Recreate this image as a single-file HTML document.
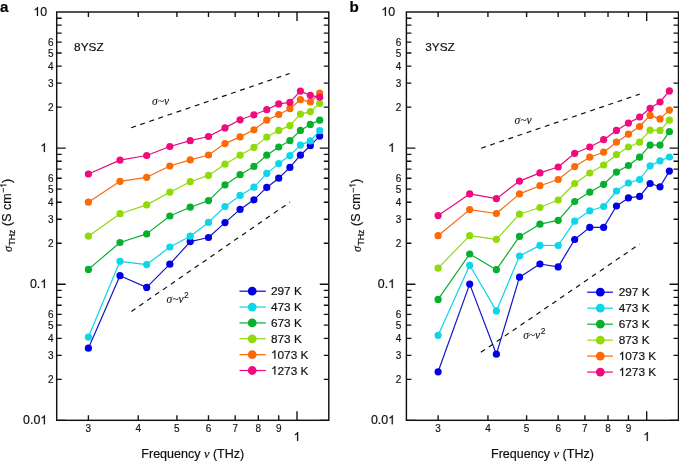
<!DOCTYPE html>
<html><head><meta charset="utf-8"><style>
html,body{margin:0;padding:0;background:#fff;}
svg{display:block;will-change:transform;}
text{font-family:"Liberation Sans",sans-serif;fill:#111;font-kerning:none;white-space:pre;stroke:#111;stroke-width:0.2px;}
.let{font-size:15.2px;font-weight:bold;fill:#000;stroke-width:0.2px;}
.it{font-family:"Liberation Serif",serif;font-style:italic;}
.sig{font-family:"Liberation Serif",serif;font-style:italic;font-size:11.5px;stroke-width:0.1px;}
</style></head><body>
<svg width="679" height="461" viewBox="0 0 679 461">
<rect width="679" height="461" fill="#fff"/>
<g transform="translate(0.00,0)">
<polyline points="88.40,348.20 119.99,275.70 146.69,287.40 169.82,264.20 190.23,241.60 208.48,237.50 224.99,222.60 240.07,209.40 253.93,199.80 266.77,187.40 278.72,178.20 289.90,167.40 300.41,155.20 310.31,145.70 319.68,136.10" fill="none" stroke="#1414cc" stroke-width="1.2" stroke-linejoin="round"/>
<circle cx="88.40" cy="348.20" r="3.6" fill="#0000e8"/><circle cx="119.99" cy="275.70" r="3.6" fill="#0000e8"/><circle cx="146.69" cy="287.40" r="3.6" fill="#0000e8"/><circle cx="169.82" cy="264.20" r="3.6" fill="#0000e8"/><circle cx="190.23" cy="241.60" r="3.6" fill="#0000e8"/><circle cx="208.48" cy="237.50" r="3.6" fill="#0000e8"/><circle cx="224.99" cy="222.60" r="3.6" fill="#0000e8"/><circle cx="240.07" cy="209.40" r="3.6" fill="#0000e8"/><circle cx="253.93" cy="199.80" r="3.6" fill="#0000e8"/><circle cx="266.77" cy="187.40" r="3.6" fill="#0000e8"/><circle cx="278.72" cy="178.20" r="3.6" fill="#0000e8"/><circle cx="289.90" cy="167.40" r="3.6" fill="#0000e8"/><circle cx="300.41" cy="155.20" r="3.6" fill="#0000e8"/><circle cx="310.31" cy="145.70" r="3.6" fill="#0000e8"/><circle cx="319.68" cy="136.10" r="3.6" fill="#0000e8"/>
<polyline points="88.40,337.10 119.99,261.30 146.69,264.60 169.82,247.00 190.23,236.20 208.48,222.40 224.99,206.50 240.07,195.40 253.93,187.20 266.77,173.40 278.72,163.60 289.90,155.60 300.41,145.10 310.31,140.90 319.68,130.70" fill="none" stroke="#0cd4e6" stroke-width="1.2" stroke-linejoin="round"/>
<circle cx="88.40" cy="337.10" r="3.6" fill="#0cd6e8"/><circle cx="119.99" cy="261.30" r="3.6" fill="#0cd6e8"/><circle cx="146.69" cy="264.60" r="3.6" fill="#0cd6e8"/><circle cx="169.82" cy="247.00" r="3.6" fill="#0cd6e8"/><circle cx="190.23" cy="236.20" r="3.6" fill="#0cd6e8"/><circle cx="208.48" cy="222.40" r="3.6" fill="#0cd6e8"/><circle cx="224.99" cy="206.50" r="3.6" fill="#0cd6e8"/><circle cx="240.07" cy="195.40" r="3.6" fill="#0cd6e8"/><circle cx="253.93" cy="187.20" r="3.6" fill="#0cd6e8"/><circle cx="266.77" cy="173.40" r="3.6" fill="#0cd6e8"/><circle cx="278.72" cy="163.60" r="3.6" fill="#0cd6e8"/><circle cx="289.90" cy="155.60" r="3.6" fill="#0cd6e8"/><circle cx="300.41" cy="145.10" r="3.6" fill="#0cd6e8"/><circle cx="310.31" cy="140.90" r="3.6" fill="#0cd6e8"/><circle cx="319.68" cy="130.70" r="3.6" fill="#0cd6e8"/>
<polyline points="88.40,269.40 119.99,242.50 146.69,233.90 169.82,216.00 190.23,207.20 208.48,200.60 224.99,184.90 240.07,174.70 253.93,166.40 266.77,155.20 278.72,147.00 289.90,140.70 300.41,130.40 310.31,124.40 319.68,120.20" fill="none" stroke="#0aae2e" stroke-width="1.2" stroke-linejoin="round"/>
<circle cx="88.40" cy="269.40" r="3.6" fill="#06b02c"/><circle cx="119.99" cy="242.50" r="3.6" fill="#06b02c"/><circle cx="146.69" cy="233.90" r="3.6" fill="#06b02c"/><circle cx="169.82" cy="216.00" r="3.6" fill="#06b02c"/><circle cx="190.23" cy="207.20" r="3.6" fill="#06b02c"/><circle cx="208.48" cy="200.60" r="3.6" fill="#06b02c"/><circle cx="224.99" cy="184.90" r="3.6" fill="#06b02c"/><circle cx="240.07" cy="174.70" r="3.6" fill="#06b02c"/><circle cx="253.93" cy="166.40" r="3.6" fill="#06b02c"/><circle cx="266.77" cy="155.20" r="3.6" fill="#06b02c"/><circle cx="278.72" cy="147.00" r="3.6" fill="#06b02c"/><circle cx="289.90" cy="140.70" r="3.6" fill="#06b02c"/><circle cx="300.41" cy="130.40" r="3.6" fill="#06b02c"/><circle cx="310.31" cy="124.40" r="3.6" fill="#06b02c"/><circle cx="319.68" cy="120.20" r="3.6" fill="#06b02c"/>
<polyline points="88.40,236.20 119.99,213.70 146.69,204.90 169.82,192.20 190.23,181.70 208.48,175.40 224.99,164.20 240.07,155.20 253.93,147.40 266.77,137.10 278.72,130.40 289.90,125.60 300.41,114.10 310.31,111.60 319.68,103.50" fill="none" stroke="#90d810" stroke-width="1.2" stroke-linejoin="round"/>
<circle cx="88.40" cy="236.20" r="3.6" fill="#90da08"/><circle cx="119.99" cy="213.70" r="3.6" fill="#90da08"/><circle cx="146.69" cy="204.90" r="3.6" fill="#90da08"/><circle cx="169.82" cy="192.20" r="3.6" fill="#90da08"/><circle cx="190.23" cy="181.70" r="3.6" fill="#90da08"/><circle cx="208.48" cy="175.40" r="3.6" fill="#90da08"/><circle cx="224.99" cy="164.20" r="3.6" fill="#90da08"/><circle cx="240.07" cy="155.20" r="3.6" fill="#90da08"/><circle cx="253.93" cy="147.40" r="3.6" fill="#90da08"/><circle cx="266.77" cy="137.10" r="3.6" fill="#90da08"/><circle cx="278.72" cy="130.40" r="3.6" fill="#90da08"/><circle cx="289.90" cy="125.60" r="3.6" fill="#90da08"/><circle cx="300.41" cy="114.10" r="3.6" fill="#90da08"/><circle cx="310.31" cy="111.60" r="3.6" fill="#90da08"/><circle cx="319.68" cy="103.50" r="3.6" fill="#90da08"/>
<polyline points="88.40,202.20 119.99,181.30 146.69,177.30 169.82,166.00 190.23,159.90 208.48,155.00 224.99,143.60 240.07,136.90 253.93,129.80 266.77,120.20 278.72,114.50 289.90,108.70 300.41,99.70 310.31,102.00 319.68,93.00" fill="none" stroke="#f66a10" stroke-width="1.2" stroke-linejoin="round"/>
<circle cx="88.40" cy="202.20" r="3.6" fill="#fa6a05"/><circle cx="119.99" cy="181.30" r="3.6" fill="#fa6a05"/><circle cx="146.69" cy="177.30" r="3.6" fill="#fa6a05"/><circle cx="169.82" cy="166.00" r="3.6" fill="#fa6a05"/><circle cx="190.23" cy="159.90" r="3.6" fill="#fa6a05"/><circle cx="208.48" cy="155.00" r="3.6" fill="#fa6a05"/><circle cx="224.99" cy="143.60" r="3.6" fill="#fa6a05"/><circle cx="240.07" cy="136.90" r="3.6" fill="#fa6a05"/><circle cx="253.93" cy="129.80" r="3.6" fill="#fa6a05"/><circle cx="266.77" cy="120.20" r="3.6" fill="#fa6a05"/><circle cx="278.72" cy="114.50" r="3.6" fill="#fa6a05"/><circle cx="289.90" cy="108.70" r="3.6" fill="#fa6a05"/><circle cx="300.41" cy="99.70" r="3.6" fill="#fa6a05"/><circle cx="310.31" cy="102.00" r="3.6" fill="#fa6a05"/><circle cx="319.68" cy="93.00" r="3.6" fill="#fa6a05"/>
<polyline points="88.40,174.00 119.99,160.10 146.69,155.50 169.82,146.50 190.23,140.70 208.48,136.50 224.99,127.90 240.07,119.80 253.93,114.80 266.77,109.70 278.72,103.90 289.90,102.40 300.41,91.10 310.31,95.30 319.68,97.20" fill="none" stroke="#e80a7e" stroke-width="1.2" stroke-linejoin="round"/>
<circle cx="88.40" cy="174.00" r="3.6" fill="#f00a7e"/><circle cx="119.99" cy="160.10" r="3.6" fill="#f00a7e"/><circle cx="146.69" cy="155.50" r="3.6" fill="#f00a7e"/><circle cx="169.82" cy="146.50" r="3.6" fill="#f00a7e"/><circle cx="190.23" cy="140.70" r="3.6" fill="#f00a7e"/><circle cx="208.48" cy="136.50" r="3.6" fill="#f00a7e"/><circle cx="224.99" cy="127.90" r="3.6" fill="#f00a7e"/><circle cx="240.07" cy="119.80" r="3.6" fill="#f00a7e"/><circle cx="253.93" cy="114.80" r="3.6" fill="#f00a7e"/><circle cx="266.77" cy="109.70" r="3.6" fill="#f00a7e"/><circle cx="278.72" cy="103.90" r="3.6" fill="#f00a7e"/><circle cx="289.90" cy="102.40" r="3.6" fill="#f00a7e"/><circle cx="300.41" cy="91.10" r="3.6" fill="#f00a7e"/><circle cx="310.31" cy="95.30" r="3.6" fill="#f00a7e"/><circle cx="319.68" cy="97.20" r="3.6" fill="#f00a7e"/>
<rect x="56.7" y="12.0" width="272.10" height="408.30" fill="none" stroke="#111" stroke-width="1.45"/>
<path d="M56.7,420.30h9M328.8,420.30h-9M56.7,379.33h5M328.8,379.33h-5M56.7,355.36h5M328.8,355.36h-5M56.7,338.36h5M328.8,338.36h-5M56.7,325.17h5M328.8,325.17h-5M56.7,314.39h5M328.8,314.39h-5M56.7,305.28h5M328.8,305.28h-5M56.7,297.39h5M328.8,297.39h-5M56.7,290.43h5M328.8,290.43h-5M56.7,284.20h9M328.8,284.20h-9M56.7,243.23h5M328.8,243.23h-5M56.7,219.26h5M328.8,219.26h-5M56.7,202.26h5M328.8,202.26h-5M56.7,189.07h5M328.8,189.07h-5M56.7,178.29h5M328.8,178.29h-5M56.7,169.18h5M328.8,169.18h-5M56.7,161.29h5M328.8,161.29h-5M56.7,154.33h5M328.8,154.33h-5M56.7,148.10h9M328.8,148.10h-9M56.7,107.13h5M328.8,107.13h-5M56.7,83.16h5M328.8,83.16h-5M56.7,66.16h5M328.8,66.16h-5M56.7,52.97h5M328.8,52.97h-5M56.7,42.19h5M328.8,42.19h-5M56.7,33.08h5M328.8,33.08h-5M56.7,25.19h5M328.8,25.19h-5M56.7,18.23h5M328.8,18.23h-5M88.40,420.30v-5M88.40,12.0v5M138.24,420.30v-5M138.24,12.0v5M176.90,420.30v-5M176.90,12.0v5M208.48,420.30v-5M208.48,12.0v5M235.19,420.30v-5M235.19,12.0v5M258.32,420.30v-5M258.32,12.0v5M278.72,420.30v-5M278.72,12.0v5M296.98,420.30v-9M296.98,12.0v9" stroke="#111" stroke-width="1.35" fill="none"/>
<text x="33.41" y="15.90" font-size="12.4" style="stroke-width:0.2px"> 0</text><path transform="translate(33.41,15.90) scale(0.00605,-0.00605)" d="M763 0H583V1147Q518 1085 412 1023Q306 961 222 930V1104Q373 1175 486 1276Q599 1377 646 1466H763Z" fill="#111" stroke="#111" stroke-width="33.0"/>
<text x="40.30" y="152.00" font-size="12.4" style="stroke-width:0.2px"> </text><path transform="translate(40.30,152.00) scale(0.00605,-0.00605)" d="M763 0H583V1147Q518 1085 412 1023Q306 961 222 930V1104Q373 1175 486 1276Q599 1377 646 1466H763Z" fill="#111" stroke="#111" stroke-width="33.0"/>
<text x="29.96" y="288.10" font-size="12.4" style="stroke-width:0.2px">0. </text><path transform="translate(40.30,288.10) scale(0.00605,-0.00605)" d="M763 0H583V1147Q518 1085 412 1023Q306 961 222 930V1104Q373 1175 486 1276Q599 1377 646 1466H763Z" fill="#111" stroke="#111" stroke-width="33.0"/>
<text x="23.07" y="424.20" font-size="12.4" style="stroke-width:0.2px">0.0 </text><path transform="translate(40.30,424.20) scale(0.00605,-0.00605)" d="M763 0H583V1147Q518 1085 412 1023Q306 961 222 930V1104Q373 1175 486 1276Q599 1377 646 1466H763Z" fill="#111" stroke="#111" stroke-width="33.0"/>
<text x="47.94" y="110.93" font-size="10.0" style="stroke-width:0.15px">2</text>
<text x="47.94" y="86.96" font-size="10.0" style="stroke-width:0.15px">3</text>
<text x="47.94" y="69.96" font-size="10.0" style="stroke-width:0.15px">4</text>
<text x="47.94" y="56.77" font-size="10.0" style="stroke-width:0.15px">5</text>
<text x="47.94" y="45.99" font-size="10.0" style="stroke-width:0.15px">6</text>
<text x="47.94" y="247.03" font-size="10.0" style="stroke-width:0.15px">2</text>
<text x="47.94" y="223.06" font-size="10.0" style="stroke-width:0.15px">3</text>
<text x="47.94" y="206.06" font-size="10.0" style="stroke-width:0.15px">4</text>
<text x="47.94" y="192.87" font-size="10.0" style="stroke-width:0.15px">5</text>
<text x="47.94" y="182.09" font-size="10.0" style="stroke-width:0.15px">6</text>
<text x="47.94" y="383.13" font-size="10.0" style="stroke-width:0.15px">2</text>
<text x="47.94" y="359.16" font-size="10.0" style="stroke-width:0.15px">3</text>
<text x="47.94" y="342.16" font-size="10.0" style="stroke-width:0.15px">4</text>
<text x="47.94" y="328.97" font-size="10.0" style="stroke-width:0.15px">5</text>
<text x="47.94" y="318.19" font-size="10.0" style="stroke-width:0.15px">6</text>
<text x="85.62" y="431.80" font-size="10.0" style="stroke-width:0.15px">3</text>
<text x="135.46" y="431.80" font-size="10.0" style="stroke-width:0.15px">4</text>
<text x="174.11" y="431.80" font-size="10.0" style="stroke-width:0.15px">5</text>
<text x="205.70" y="431.80" font-size="10.0" style="stroke-width:0.15px">6</text>
<text x="232.41" y="431.80" font-size="10.0" style="stroke-width:0.15px">7</text>
<text x="255.54" y="431.80" font-size="10.0" style="stroke-width:0.15px">8</text>
<text x="275.94" y="431.80" font-size="10.0" style="stroke-width:0.15px">9</text>
<text x="293.53" y="440.90" font-size="12.4" style="stroke-width:0.2px"> </text><path transform="translate(293.53,440.90) scale(0.00605,-0.00605)" d="M763 0H583V1147Q518 1085 412 1023Q306 961 222 930V1104Q373 1175 486 1276Q599 1377 646 1466H763Z" fill="#111" stroke="#111" stroke-width="33.0"/>
<text x="192.75" y="457.6" font-size="12.5" text-anchor="middle">Frequency <tspan class="it">ν</tspan> (THz)</text>
<g transform="translate(10.90,251.8) rotate(-90)"><text x="0" y="0.6" font-size="11.5" class="it">σ</text><text x="6.2" y="3.9" font-size="8.8">THz</text><text x="22.33" y="0" font-size="12.5"> (S cm</text><text x="58.74" y="-4.6" font-size="8.8">−</text><text x="63.88" y="-4.60" font-size="8.8" style="stroke-width:0.2px"> </text><path transform="translate(63.88,-4.60) scale(0.00430,-0.00430)" d="M763 0H583V1147Q518 1085 412 1023Q306 961 222 930V1104Q373 1175 486 1276Q599 1377 646 1466H763Z" fill="#111" stroke="#111" stroke-width="46.5"/><text x="68.77" y="0" font-size="12.5">)</text></g>
<line x1="130.60" y1="127.9" x2="289.70" y2="73.5" stroke="#111" stroke-width="1.2" stroke-dasharray="4.9 4.7" stroke-dashoffset="-0.6"/>
<line x1="130.90" y1="311.8" x2="290.00" y2="202.1" stroke="#111" stroke-width="1.2" stroke-dasharray="4.9 4.7" stroke-dashoffset="-0.6"/>
<text x="152.00" y="105.2" class="sig">σ~ν</text>
<text x="166.50" y="303" class="sig">σ~ν<tspan font-family="Liberation Sans" font-style="normal" font-size="8.5" dx="0.6" dy="-5">2</tspan></text>
<text x="74.10" y="51.2" font-size="11.8">8YSZ</text>
<line x1="239.50" y1="291.20" x2="265.80" y2="291.20" stroke="#0000e8" stroke-width="1.2"/>
<circle cx="252.20" cy="291.20" r="4.4" fill="#0000e8"/>
<text x="271.00" y="295.20" font-size="11.8" style="stroke-width:0.2px">297 K</text>
<line x1="239.50" y1="307.06" x2="265.80" y2="307.06" stroke="#0cd6e8" stroke-width="1.2"/>
<circle cx="252.20" cy="307.06" r="4.4" fill="#0cd6e8"/>
<text x="271.00" y="311.06" font-size="11.8" style="stroke-width:0.2px">473 K</text>
<line x1="239.50" y1="322.92" x2="265.80" y2="322.92" stroke="#06b02c" stroke-width="1.2"/>
<circle cx="252.20" cy="322.92" r="4.4" fill="#06b02c"/>
<text x="271.00" y="326.92" font-size="11.8" style="stroke-width:0.2px">673 K</text>
<line x1="239.50" y1="338.78" x2="265.80" y2="338.78" stroke="#90da08" stroke-width="1.2"/>
<circle cx="252.20" cy="338.78" r="4.4" fill="#90da08"/>
<text x="271.00" y="342.78" font-size="11.8" style="stroke-width:0.2px">873 K</text>
<line x1="239.50" y1="354.64" x2="265.80" y2="354.64" stroke="#fa6a05" stroke-width="1.2"/>
<circle cx="252.20" cy="354.64" r="4.4" fill="#fa6a05"/>
<text x="271.00" y="358.64" font-size="11.8" style="stroke-width:0.2px"> 073 K</text><path transform="translate(271.00,358.64) scale(0.00576,-0.00576)" d="M763 0H583V1147Q518 1085 412 1023Q306 961 222 930V1104Q373 1175 486 1276Q599 1377 646 1466H763Z" fill="#111" stroke="#111" stroke-width="34.7"/>
<line x1="239.50" y1="370.50" x2="265.80" y2="370.50" stroke="#f00a7e" stroke-width="1.2"/>
<circle cx="252.20" cy="370.50" r="4.4" fill="#f00a7e"/>
<text x="271.00" y="374.50" font-size="11.8" style="stroke-width:0.2px"> 273 K</text><path transform="translate(271.00,374.50) scale(0.00576,-0.00576)" d="M763 0H583V1147Q518 1085 412 1023Q306 961 222 930V1104Q373 1175 486 1276Q599 1377 646 1466H763Z" fill="#111" stroke="#111" stroke-width="34.7"/>
</g>
<g transform="translate(349.70,0)">
<polyline points="88.40,371.80 119.99,284.10 146.69,354.20 169.82,277.20 190.23,264.00 208.48,266.90 224.99,239.50 240.07,227.40 253.93,227.40 266.77,206.00 278.72,197.90 289.90,196.40 300.41,183.50 310.31,186.80 319.68,171.10" fill="none" stroke="#1414cc" stroke-width="1.2" stroke-linejoin="round"/>
<circle cx="88.40" cy="371.80" r="3.6" fill="#0000e8"/><circle cx="119.99" cy="284.10" r="3.6" fill="#0000e8"/><circle cx="146.69" cy="354.20" r="3.6" fill="#0000e8"/><circle cx="169.82" cy="277.20" r="3.6" fill="#0000e8"/><circle cx="190.23" cy="264.00" r="3.6" fill="#0000e8"/><circle cx="208.48" cy="266.90" r="3.6" fill="#0000e8"/><circle cx="224.99" cy="239.50" r="3.6" fill="#0000e8"/><circle cx="240.07" cy="227.40" r="3.6" fill="#0000e8"/><circle cx="253.93" cy="227.40" r="3.6" fill="#0000e8"/><circle cx="266.77" cy="206.00" r="3.6" fill="#0000e8"/><circle cx="278.72" cy="197.90" r="3.6" fill="#0000e8"/><circle cx="289.90" cy="196.40" r="3.6" fill="#0000e8"/><circle cx="300.41" cy="183.50" r="3.6" fill="#0000e8"/><circle cx="310.31" cy="186.80" r="3.6" fill="#0000e8"/><circle cx="319.68" cy="171.10" r="3.6" fill="#0000e8"/>
<polyline points="88.40,335.30 119.99,265.30 146.69,310.90 169.82,256.00 190.23,245.40 208.48,245.50 224.99,221.20 240.07,210.80 253.93,206.50 266.77,191.00 278.72,183.00 289.90,179.50 300.41,165.80 310.31,160.90 319.68,157.00" fill="none" stroke="#0cd4e6" stroke-width="1.2" stroke-linejoin="round"/>
<circle cx="88.40" cy="335.30" r="3.6" fill="#0cd6e8"/><circle cx="119.99" cy="265.30" r="3.6" fill="#0cd6e8"/><circle cx="146.69" cy="310.90" r="3.6" fill="#0cd6e8"/><circle cx="169.82" cy="256.00" r="3.6" fill="#0cd6e8"/><circle cx="190.23" cy="245.40" r="3.6" fill="#0cd6e8"/><circle cx="208.48" cy="245.50" r="3.6" fill="#0cd6e8"/><circle cx="224.99" cy="221.20" r="3.6" fill="#0cd6e8"/><circle cx="240.07" cy="210.80" r="3.6" fill="#0cd6e8"/><circle cx="253.93" cy="206.50" r="3.6" fill="#0cd6e8"/><circle cx="266.77" cy="191.00" r="3.6" fill="#0cd6e8"/><circle cx="278.72" cy="183.00" r="3.6" fill="#0cd6e8"/><circle cx="289.90" cy="179.50" r="3.6" fill="#0cd6e8"/><circle cx="300.41" cy="165.80" r="3.6" fill="#0cd6e8"/><circle cx="310.31" cy="160.90" r="3.6" fill="#0cd6e8"/><circle cx="319.68" cy="157.00" r="3.6" fill="#0cd6e8"/>
<polyline points="88.40,299.40 119.99,254.00 146.69,269.70 169.82,236.40 190.23,224.20 208.48,220.30 224.99,201.50 240.07,192.20 253.93,184.30 266.77,172.10 278.72,165.50 289.90,157.20 300.41,145.10 310.31,145.10 319.68,131.70" fill="none" stroke="#0aae2e" stroke-width="1.2" stroke-linejoin="round"/>
<circle cx="88.40" cy="299.40" r="3.6" fill="#06b02c"/><circle cx="119.99" cy="254.00" r="3.6" fill="#06b02c"/><circle cx="146.69" cy="269.70" r="3.6" fill="#06b02c"/><circle cx="169.82" cy="236.40" r="3.6" fill="#06b02c"/><circle cx="190.23" cy="224.20" r="3.6" fill="#06b02c"/><circle cx="208.48" cy="220.30" r="3.6" fill="#06b02c"/><circle cx="224.99" cy="201.50" r="3.6" fill="#06b02c"/><circle cx="240.07" cy="192.20" r="3.6" fill="#06b02c"/><circle cx="253.93" cy="184.30" r="3.6" fill="#06b02c"/><circle cx="266.77" cy="172.10" r="3.6" fill="#06b02c"/><circle cx="278.72" cy="165.50" r="3.6" fill="#06b02c"/><circle cx="289.90" cy="157.20" r="3.6" fill="#06b02c"/><circle cx="300.41" cy="145.10" r="3.6" fill="#06b02c"/><circle cx="310.31" cy="145.10" r="3.6" fill="#06b02c"/><circle cx="319.68" cy="131.70" r="3.6" fill="#06b02c"/>
<polyline points="88.40,268.20 119.99,235.70 146.69,239.30 169.82,214.20 190.23,207.50 208.48,200.00 224.99,183.50 240.07,173.00 253.93,165.00 266.77,154.70 278.72,147.00 289.90,142.20 300.41,130.20 310.31,130.40 319.68,120.20" fill="none" stroke="#90d810" stroke-width="1.2" stroke-linejoin="round"/>
<circle cx="88.40" cy="268.20" r="3.6" fill="#90da08"/><circle cx="119.99" cy="235.70" r="3.6" fill="#90da08"/><circle cx="146.69" cy="239.30" r="3.6" fill="#90da08"/><circle cx="169.82" cy="214.20" r="3.6" fill="#90da08"/><circle cx="190.23" cy="207.50" r="3.6" fill="#90da08"/><circle cx="208.48" cy="200.00" r="3.6" fill="#90da08"/><circle cx="224.99" cy="183.50" r="3.6" fill="#90da08"/><circle cx="240.07" cy="173.00" r="3.6" fill="#90da08"/><circle cx="253.93" cy="165.00" r="3.6" fill="#90da08"/><circle cx="266.77" cy="154.70" r="3.6" fill="#90da08"/><circle cx="278.72" cy="147.00" r="3.6" fill="#90da08"/><circle cx="289.90" cy="142.20" r="3.6" fill="#90da08"/><circle cx="300.41" cy="130.20" r="3.6" fill="#90da08"/><circle cx="310.31" cy="130.40" r="3.6" fill="#90da08"/><circle cx="319.68" cy="120.20" r="3.6" fill="#90da08"/>
<polyline points="88.40,235.70 119.99,209.60 146.69,213.50 169.82,193.90 190.23,185.70 208.48,179.50 224.99,166.60 240.07,157.20 253.93,152.20 266.77,142.20 278.72,134.20 289.90,126.50 300.41,115.40 310.31,118.90 319.68,110.10" fill="none" stroke="#f66a10" stroke-width="1.2" stroke-linejoin="round"/>
<circle cx="88.40" cy="235.70" r="3.6" fill="#fa6a05"/><circle cx="119.99" cy="209.60" r="3.6" fill="#fa6a05"/><circle cx="146.69" cy="213.50" r="3.6" fill="#fa6a05"/><circle cx="169.82" cy="193.90" r="3.6" fill="#fa6a05"/><circle cx="190.23" cy="185.70" r="3.6" fill="#fa6a05"/><circle cx="208.48" cy="179.50" r="3.6" fill="#fa6a05"/><circle cx="224.99" cy="166.60" r="3.6" fill="#fa6a05"/><circle cx="240.07" cy="157.20" r="3.6" fill="#fa6a05"/><circle cx="253.93" cy="152.20" r="3.6" fill="#fa6a05"/><circle cx="266.77" cy="142.20" r="3.6" fill="#fa6a05"/><circle cx="278.72" cy="134.20" r="3.6" fill="#fa6a05"/><circle cx="289.90" cy="126.50" r="3.6" fill="#fa6a05"/><circle cx="300.41" cy="115.40" r="3.6" fill="#fa6a05"/><circle cx="310.31" cy="118.90" r="3.6" fill="#fa6a05"/><circle cx="319.68" cy="110.10" r="3.6" fill="#fa6a05"/>
<polyline points="88.40,215.60 119.99,193.90 146.69,198.70 169.82,181.10 190.23,172.90 208.48,167.00 224.99,153.30 240.07,147.00 253.93,139.70 266.77,130.40 278.72,123.10 289.90,117.00 300.41,108.30 310.31,102.00 319.68,90.90" fill="none" stroke="#e80a7e" stroke-width="1.2" stroke-linejoin="round"/>
<circle cx="88.40" cy="215.60" r="3.6" fill="#f00a7e"/><circle cx="119.99" cy="193.90" r="3.6" fill="#f00a7e"/><circle cx="146.69" cy="198.70" r="3.6" fill="#f00a7e"/><circle cx="169.82" cy="181.10" r="3.6" fill="#f00a7e"/><circle cx="190.23" cy="172.90" r="3.6" fill="#f00a7e"/><circle cx="208.48" cy="167.00" r="3.6" fill="#f00a7e"/><circle cx="224.99" cy="153.30" r="3.6" fill="#f00a7e"/><circle cx="240.07" cy="147.00" r="3.6" fill="#f00a7e"/><circle cx="253.93" cy="139.70" r="3.6" fill="#f00a7e"/><circle cx="266.77" cy="130.40" r="3.6" fill="#f00a7e"/><circle cx="278.72" cy="123.10" r="3.6" fill="#f00a7e"/><circle cx="289.90" cy="117.00" r="3.6" fill="#f00a7e"/><circle cx="300.41" cy="108.30" r="3.6" fill="#f00a7e"/><circle cx="310.31" cy="102.00" r="3.6" fill="#f00a7e"/><circle cx="319.68" cy="90.90" r="3.6" fill="#f00a7e"/>
<rect x="56.7" y="12.0" width="272.10" height="408.30" fill="none" stroke="#111" stroke-width="1.45"/>
<path d="M56.7,420.30h9M328.8,420.30h-9M56.7,379.33h5M328.8,379.33h-5M56.7,355.36h5M328.8,355.36h-5M56.7,338.36h5M328.8,338.36h-5M56.7,325.17h5M328.8,325.17h-5M56.7,314.39h5M328.8,314.39h-5M56.7,305.28h5M328.8,305.28h-5M56.7,297.39h5M328.8,297.39h-5M56.7,290.43h5M328.8,290.43h-5M56.7,284.20h9M328.8,284.20h-9M56.7,243.23h5M328.8,243.23h-5M56.7,219.26h5M328.8,219.26h-5M56.7,202.26h5M328.8,202.26h-5M56.7,189.07h5M328.8,189.07h-5M56.7,178.29h5M328.8,178.29h-5M56.7,169.18h5M328.8,169.18h-5M56.7,161.29h5M328.8,161.29h-5M56.7,154.33h5M328.8,154.33h-5M56.7,148.10h9M328.8,148.10h-9M56.7,107.13h5M328.8,107.13h-5M56.7,83.16h5M328.8,83.16h-5M56.7,66.16h5M328.8,66.16h-5M56.7,52.97h5M328.8,52.97h-5M56.7,42.19h5M328.8,42.19h-5M56.7,33.08h5M328.8,33.08h-5M56.7,25.19h5M328.8,25.19h-5M56.7,18.23h5M328.8,18.23h-5M88.40,420.30v-5M88.40,12.0v5M138.24,420.30v-5M138.24,12.0v5M176.90,420.30v-5M176.90,12.0v5M208.48,420.30v-5M208.48,12.0v5M235.19,420.30v-5M235.19,12.0v5M258.32,420.30v-5M258.32,12.0v5M278.72,420.30v-5M278.72,12.0v5M296.98,420.30v-9M296.98,12.0v9" stroke="#111" stroke-width="1.35" fill="none"/>
<text x="31.61" y="15.90" font-size="12.4" style="stroke-width:0.2px"> 0</text><path transform="translate(31.61,15.90) scale(0.00605,-0.00605)" d="M763 0H583V1147Q518 1085 412 1023Q306 961 222 930V1104Q373 1175 486 1276Q599 1377 646 1466H763Z" fill="#111" stroke="#111" stroke-width="33.0"/>
<text x="38.50" y="152.00" font-size="12.4" style="stroke-width:0.2px"> </text><path transform="translate(38.50,152.00) scale(0.00605,-0.00605)" d="M763 0H583V1147Q518 1085 412 1023Q306 961 222 930V1104Q373 1175 486 1276Q599 1377 646 1466H763Z" fill="#111" stroke="#111" stroke-width="33.0"/>
<text x="28.16" y="288.10" font-size="12.4" style="stroke-width:0.2px">0. </text><path transform="translate(38.50,288.10) scale(0.00605,-0.00605)" d="M763 0H583V1147Q518 1085 412 1023Q306 961 222 930V1104Q373 1175 486 1276Q599 1377 646 1466H763Z" fill="#111" stroke="#111" stroke-width="33.0"/>
<text x="21.27" y="424.20" font-size="12.4" style="stroke-width:0.2px">0.0 </text><path transform="translate(38.50,424.20) scale(0.00605,-0.00605)" d="M763 0H583V1147Q518 1085 412 1023Q306 961 222 930V1104Q373 1175 486 1276Q599 1377 646 1466H763Z" fill="#111" stroke="#111" stroke-width="33.0"/>
<text x="46.14" y="110.93" font-size="10.0" style="stroke-width:0.15px">2</text>
<text x="46.14" y="86.96" font-size="10.0" style="stroke-width:0.15px">3</text>
<text x="46.14" y="69.96" font-size="10.0" style="stroke-width:0.15px">4</text>
<text x="46.14" y="56.77" font-size="10.0" style="stroke-width:0.15px">5</text>
<text x="46.14" y="45.99" font-size="10.0" style="stroke-width:0.15px">6</text>
<text x="46.14" y="247.03" font-size="10.0" style="stroke-width:0.15px">2</text>
<text x="46.14" y="223.06" font-size="10.0" style="stroke-width:0.15px">3</text>
<text x="46.14" y="206.06" font-size="10.0" style="stroke-width:0.15px">4</text>
<text x="46.14" y="192.87" font-size="10.0" style="stroke-width:0.15px">5</text>
<text x="46.14" y="182.09" font-size="10.0" style="stroke-width:0.15px">6</text>
<text x="46.14" y="383.13" font-size="10.0" style="stroke-width:0.15px">2</text>
<text x="46.14" y="359.16" font-size="10.0" style="stroke-width:0.15px">3</text>
<text x="46.14" y="342.16" font-size="10.0" style="stroke-width:0.15px">4</text>
<text x="46.14" y="328.97" font-size="10.0" style="stroke-width:0.15px">5</text>
<text x="46.14" y="318.19" font-size="10.0" style="stroke-width:0.15px">6</text>
<text x="85.62" y="431.80" font-size="10.0" style="stroke-width:0.15px">3</text>
<text x="135.46" y="431.80" font-size="10.0" style="stroke-width:0.15px">4</text>
<text x="174.11" y="431.80" font-size="10.0" style="stroke-width:0.15px">5</text>
<text x="205.70" y="431.80" font-size="10.0" style="stroke-width:0.15px">6</text>
<text x="232.41" y="431.80" font-size="10.0" style="stroke-width:0.15px">7</text>
<text x="255.54" y="431.80" font-size="10.0" style="stroke-width:0.15px">8</text>
<text x="275.94" y="431.80" font-size="10.0" style="stroke-width:0.15px">9</text>
<text x="293.53" y="440.90" font-size="12.4" style="stroke-width:0.2px"> </text><path transform="translate(293.53,440.90) scale(0.00605,-0.00605)" d="M763 0H583V1147Q518 1085 412 1023Q306 961 222 930V1104Q373 1175 486 1276Q599 1377 646 1466H763Z" fill="#111" stroke="#111" stroke-width="33.0"/>
<text x="192.75" y="457.6" font-size="12.5" text-anchor="middle">Frequency <tspan class="it">ν</tspan> (THz)</text>
<g transform="translate(10.40,251.8) rotate(-90)"><text x="0" y="0.6" font-size="11.5" class="it">σ</text><text x="6.2" y="3.9" font-size="8.8">THz</text><text x="22.33" y="0" font-size="12.5"> (S cm</text><text x="58.74" y="-4.6" font-size="8.8">−</text><text x="63.88" y="-4.60" font-size="8.8" style="stroke-width:0.2px"> </text><path transform="translate(63.88,-4.60) scale(0.00430,-0.00430)" d="M763 0H583V1147Q518 1085 412 1023Q306 961 222 930V1104Q373 1175 486 1276Q599 1377 646 1466H763Z" fill="#111" stroke="#111" stroke-width="46.5"/><text x="68.77" y="0" font-size="12.5">)</text></g>
<line x1="130.90" y1="148.4" x2="290.00" y2="94.1" stroke="#111" stroke-width="1.2" stroke-dasharray="4.9 4.7" stroke-dashoffset="-0.6"/>
<line x1="130.70" y1="352.7" x2="290.00" y2="244.0" stroke="#111" stroke-width="1.2" stroke-dasharray="4.9 4.7" stroke-dashoffset="-0.6"/>
<text x="164.90" y="123.6" class="sig">σ~ν</text>
<text x="173.50" y="339" class="sig">σ~ν<tspan font-family="Liberation Sans" font-style="normal" font-size="8.5" dx="0.6" dy="-5">2</tspan></text>
<text x="75.50" y="51.2" font-size="11.8">3YSZ</text>
<line x1="237.50" y1="292.20" x2="263.20" y2="292.20" stroke="#0000e8" stroke-width="1.2"/>
<circle cx="250.60" cy="292.20" r="4.4" fill="#0000e8"/>
<text x="269.00" y="296.20" font-size="11.8" style="stroke-width:0.2px">297 K</text>
<line x1="237.50" y1="308.18" x2="263.20" y2="308.18" stroke="#0cd6e8" stroke-width="1.2"/>
<circle cx="250.60" cy="308.18" r="4.4" fill="#0cd6e8"/>
<text x="269.00" y="312.18" font-size="11.8" style="stroke-width:0.2px">473 K</text>
<line x1="237.50" y1="324.16" x2="263.20" y2="324.16" stroke="#06b02c" stroke-width="1.2"/>
<circle cx="250.60" cy="324.16" r="4.4" fill="#06b02c"/>
<text x="269.00" y="328.16" font-size="11.8" style="stroke-width:0.2px">673 K</text>
<line x1="237.50" y1="340.14" x2="263.20" y2="340.14" stroke="#90da08" stroke-width="1.2"/>
<circle cx="250.60" cy="340.14" r="4.4" fill="#90da08"/>
<text x="269.00" y="344.14" font-size="11.8" style="stroke-width:0.2px">873 K</text>
<line x1="237.50" y1="356.12" x2="263.20" y2="356.12" stroke="#fa6a05" stroke-width="1.2"/>
<circle cx="250.60" cy="356.12" r="4.4" fill="#fa6a05"/>
<text x="269.00" y="360.12" font-size="11.8" style="stroke-width:0.2px"> 073 K</text><path transform="translate(269.00,360.12) scale(0.00576,-0.00576)" d="M763 0H583V1147Q518 1085 412 1023Q306 961 222 930V1104Q373 1175 486 1276Q599 1377 646 1466H763Z" fill="#111" stroke="#111" stroke-width="34.7"/>
<line x1="237.50" y1="372.10" x2="263.20" y2="372.10" stroke="#f00a7e" stroke-width="1.2"/>
<circle cx="250.60" cy="372.10" r="4.4" fill="#f00a7e"/>
<text x="269.00" y="376.10" font-size="11.8" style="stroke-width:0.2px"> 273 K</text><path transform="translate(269.00,376.10) scale(0.00576,-0.00576)" d="M763 0H583V1147Q518 1085 412 1023Q306 961 222 930V1104Q373 1175 486 1276Q599 1377 646 1466H763Z" fill="#111" stroke="#111" stroke-width="34.7"/>
</g>
<text x="0" y="11.7" class="let">a</text>
<text x="349.5" y="11.7" class="let">b</text>
</svg>
</body></html>
